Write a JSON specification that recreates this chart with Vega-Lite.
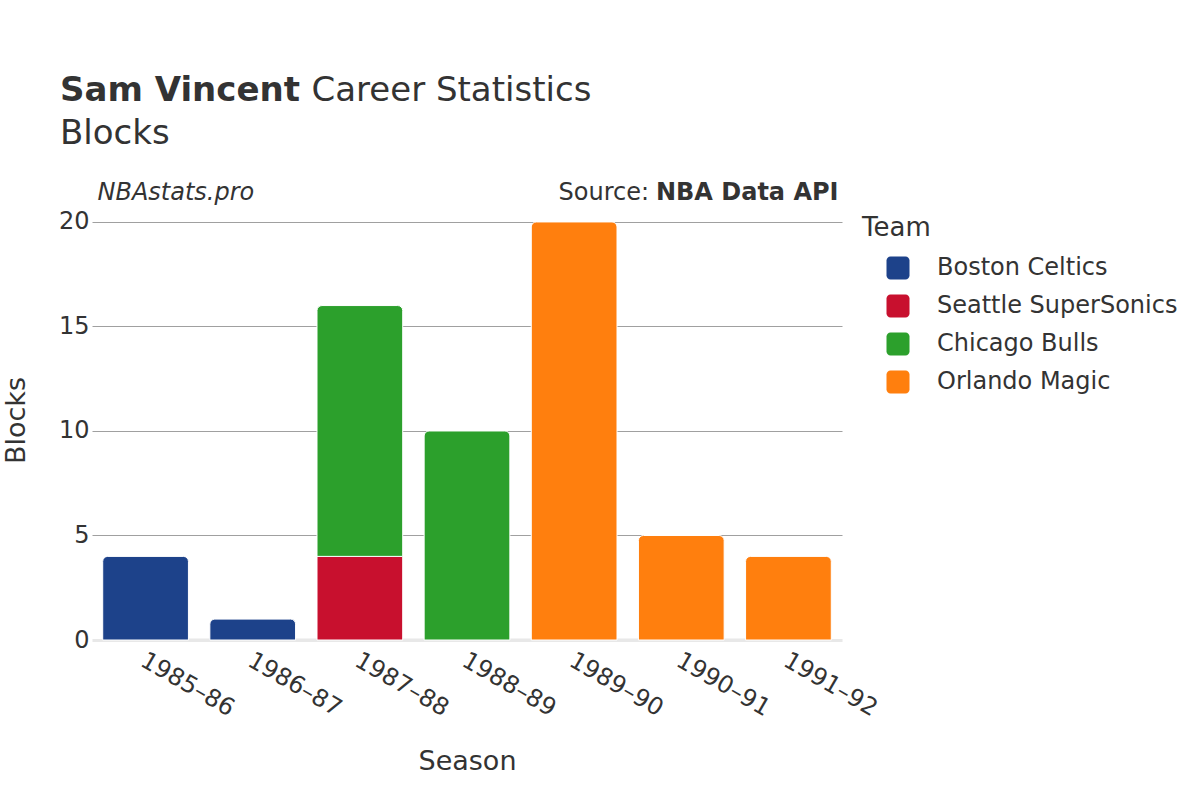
{
  "$schema": "https://vega.github.io/schema/vega-lite/v6.json",
  "width": 750,
  "height": 440,
  "autosize": {"type": "none"},
  "padding": {"left": 92, "top": 200, "right": 358, "bottom": 160},
  "background": "white",
  "config": {
    "font": "DejaVu Sans",
    "view": {"stroke": null},
    "axis": {"labelColor": "#333333", "titleColor": "#333333"},
    "legend": {"labelColor": "#333333", "titleColor": "#333333"}
  },
  "title": {
    "text": "Sam Vincent",
    "subtitle": "Blocks",
    "anchor": "start",
    "frame": "group",
    "dx": -32,
    "offset": -78,
    "fontSize": 34,
    "fontWeight": "bold",
    "color": "#333333",
    "subtitleFontSize": 34,
    "subtitleColor": "#333333",
    "subtitleFontWeight": "normal",
    "subtitlePadding": 9
  },
  "data": {
    "values": [
      {"season": "1985–86", "team": "Boston Celtics", "blocks": 4},
      {"season": "1986–87", "team": "Boston Celtics", "blocks": 1},
      {"season": "1987–88", "team": "Seattle SuperSonics", "blocks": 4},
      {"season": "1987–88", "team": "Chicago Bulls", "blocks": 12},
      {"season": "1988–89", "team": "Chicago Bulls", "blocks": 10},
      {"season": "1989–90", "team": "Orlando Magic", "blocks": 20},
      {"season": "1990–91", "team": "Orlando Magic", "blocks": 5},
      {"season": "1991–92", "team": "Orlando Magic", "blocks": 4}
    ]
  },
  "transform": [
    {"stack": "blocks", "groupby": ["season"], "sort": [{"field": "team", "order": "descending"}], "as": ["b0", "b1"]}
  ],
  "resolve": {"axis": {"x": "independent", "y": "independent"}},
  "layer": [
    {
      "data": {"values": [{}]},
      "mark": {"type": "rule", "color": "#e8e8e8", "strokeWidth": 3},
      "encoding": {
        "x": {
          "datum": "1985–86", "type": "nominal",
          "scale": {"domain": ["1985–86", "1986–87", "1987–88", "1988–89", "1989–90", "1990–91", "1991–92"], "paddingInner": 0.2, "paddingOuter": 0.1},
          "axis": {"orient": "top", "title": "Source:", "titleX": 466, "titleY": -1, "titleAngle": 0, "titleAlign": "left", "titleBaseline": "alphabetic", "titleFontSize": 24, "titleFontWeight": "normal", "labels": false, "ticks": false, "domain": false, "grid": false}
        },
        "x2": {"datum": "1991–92"},
        "y": {
          "datum": 0, "type": "quantitative",
          "scale": {"domain": [0, 21.05], "nice": false, "zero": false},
          "axis": {"orient": "left", "title": "NBA Data API", "titleX": 746, "titleY": -1, "titleAngle": 0, "titleAlign": "right", "titleBaseline": "alphabetic", "titleFontSize": 24, "titleFontWeight": "bold", "labels": false, "ticks": false, "domain": false, "grid": false}
        }
      }
    },
    {
      "transform": [{"filter": "datum.team === 'Seattle SuperSonics'"}],
      "mark": {"type": "bar", "stroke": "white", "strokeWidth": 1},
      "encoding": {
        "x": {
          "field": "season", "type": "nominal",
          "scale": {"domain": ["1985–86", "1986–87", "1987–88", "1988–89", "1989–90", "1990–91", "1991–92"], "paddingInner": 0.2, "paddingOuter": 0.1},
          "axis": {"orient": "top", "title": "Career Statistics", "titleX": 219, "titleY": -100, "titleAngle": 0, "titleAlign": "left", "titleBaseline": "alphabetic", "titleFontSize": 34, "titleFontWeight": "normal", "labels": false, "ticks": false, "domain": false, "grid": false}
        },
        "y": {
          "field": "b1", "type": "quantitative",
          "scale": {"domain": [0, 21.05], "nice": false, "zero": false},
          "axis": {"orient": "left", "title": "NBAstats.pro", "titleX": 5, "titleY": -1, "titleAngle": 0, "titleAlign": "left", "titleBaseline": "alphabetic", "titleFontSize": 24, "titleFontWeight": "normal", "titleFontStyle": "italic", "labels": false, "ticks": false, "domain": false, "grid": false}
        },
        "y2": {"field": "b0"},
        "color": {
          "field": "team", "type": "nominal",
          "scale": {"domain": ["Boston Celtics", "Seattle SuperSonics", "Chicago Bulls", "Orlando Magic"], "range": ["#1D428A", "#C8102E", "#2CA02C", "#FF7F0E"]}
        }
      }
    },
    {
      "transform": [{"filter": "datum.team !== 'Seattle SuperSonics'"}],
      "mark": {"type": "bar", "stroke": "white", "strokeWidth": 1, "cornerRadiusTopLeft": 5, "cornerRadiusTopRight": 5},
      "encoding": {
        "x": {
          "field": "season", "type": "nominal",
          "scale": {"domain": ["1985–86", "1986–87", "1987–88", "1988–89", "1989–90", "1990–91", "1991–92"], "paddingInner": 0.2, "paddingOuter": 0.1},
          "axis": {"orient": "bottom", "title": "Season", "titleFontSize": 27, "titleFontWeight": "normal", "titlePadding": 28, "labelAngle": 30, "labelFontSize": 24, "labelPadding": 8, "labelOffset": 3, "ticks": false, "domain": true, "domainColor": "#e8e8e8", "domainWidth": 3, "grid": false}
        },
        "y": {
          "field": "b1", "type": "quantitative",
          "scale": {"domain": [0, 21.05], "nice": false, "zero": false},
          "axis": {"orient": "left", "title": "Blocks", "titleFontSize": 27, "titleFontWeight": "normal", "titlePadding": 28, "values": [0, 5, 10, 15, 20], "labelFontSize": 24, "labelPadding": 3, "ticks": false, "domain": false, "grid": true, "gridColor": {"condition": {"test": "datum.value === 0", "value": "rgba(0,0,0,0)"}, "value": "#a0a0a0"}, "gridWidth": 1}
        },
        "y2": {"field": "b0"},
        "color": {
          "field": "team", "type": "nominal",
          "scale": {"domain": ["Boston Celtics", "Seattle SuperSonics", "Chicago Bulls", "Orlando Magic"], "range": ["#1D428A", "#C8102E", "#2CA02C", "#FF7F0E"]},
          "legend": {
            "orient": "none", "legendX": 770, "legendY": 15, "padding": 0,
            "title": "Team", "titleFontSize": 26, "titleFontWeight": "normal", "titlePadding": 15,
            "labelFontSize": 24, "labelOffset": 27, "labelLimit": 400, "rowPadding": 14,
            "symbolType": "M-0.65,-1H0.65A0.35,0.35 0 0 1 1,-0.65V0.65A0.35,0.35 0 0 1 0.65,1H-0.65A0.35,0.35 0 0 1 -1,0.65V-0.65A0.35,0.35 0 0 1 -0.65,-1Z",
            "symbolSize": 529, "symbolStrokeWidth": 0, "symbolOffset": 24, "symbolOpacity": 1
          }
        }
      }
    }
  ]
}
